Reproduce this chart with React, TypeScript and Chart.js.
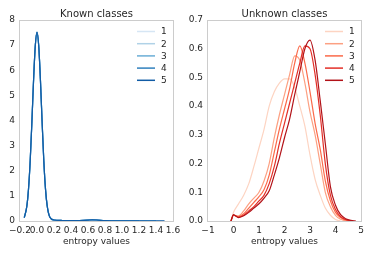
import React, { useEffect, useRef } from "react";
import { Chart, registerables } from "chart.js";

Chart.register(...registerables);

const FONT = "'DejaVu Sans', 'Liberation Sans', sans-serif";
const TEXT = "#262626";
const SPINE = "#cccccc";

const SERIES_LABELS = ["1", "2", "3", "4", "5"];
const BLUES = ["#d6e6f4", "#b0d2e7", "#6baed6", "#3080bd", "#115ca5"];
const REDS = ["#fdd4c2", "#fca082", "#fb6a4a", "#e32f27", "#b21218"];

// Known classes
const KNOWN_X = [-0.15, -0.12, -0.1, -0.08, -0.06, -0.04, -0.02, 0, 0.02, 0.04, 0.06, 0.08, 0.1, 0.12, 0.15, 0.2, 0.3, 0.4, 0.5, 0.6, 0.65, 0.7, 0.8, 0.9, 1.0, 1.1, 1.2, 1.3, 1.4, 1.5];
const K1 = [0.12, 0.57, 1.25, 2.38, 3.93, 5.62, 6.97, 7.5, 6.99, 5.66, 3.97, 2.42, 1.29, 0.61, 0.17, 0.04, 0.02, 0.015, 0.02, 0.03, 0.04, 0.035, 0.015, 0.01, 0.008, 0.006, 0.012, 0.008, 0.015, 0.005];
const K2 = [0.13, 0.58, 1.26, 2.39, 3.94, 5.63, 6.98, 7.51, 6.98, 5.65, 3.96, 2.41, 1.28, 0.6, 0.16, 0.04, 0.02, 0.015, 0.02, 0.035, 0.045, 0.04, 0.015, 0.01, 0.008, 0.006, 0.01, 0.006, null, null];
const K3 = [0.13, 0.58, 1.27, 2.4, 3.95, 5.64, 6.98, 7.52, 6.98, 5.64, 3.95, 2.4, 1.27, 0.6, 0.16, 0.04, 0.02, 0.015, 0.02, 0.035, 0.045, 0.04, 0.015, 0.01, 0.008, 0.006, 0.006, 0.01, 0.012, null];
const K4 = [0.13, 0.58, 1.27, 2.4, 3.95, 5.64, 6.98, 7.52, 6.98, 5.64, 3.95, 2.4, 1.27, 0.6, 0.16, 0.04, 0.02, 0.015, 0.02, 0.035, 0.05, 0.045, 0.015, 0.01, 0.008, 0.006, 0.006, null, null, null];
const K5 = [0.13, 0.58, 1.27, 2.4, 3.95, 5.64, 6.98, 7.52, 6.98, 5.64, 3.95, 2.4, 1.27, 0.6, 0.16, 0.04, 0.02, 0.015, 0.02, 0.035, 0.045, 0.04, 0.015, 0.01, 0.008, 0.006, 0.006, 0.01, 0.01, 0.005];
const KNOWN_SERIES = [K1, K2, K3, K4, K5];

// Unknown classes
const UNK_X = [-0.1, 0, 0.2, 0.4, 0.6, 0.8, 1.0, 1.2, 1.4, 1.6, 1.8, 2.0, 2.2, 2.4, 2.6, 2.8, 3.0, 3.2, 3.4, 3.6, 3.8, 4.0, 4.2, 4.4, 4.6, 4.8];
const U1 = [0, 0.03, 0.06, 0.09, 0.13, 0.19, 0.255, 0.32, 0.4, 0.45, 0.48, 0.495, 0.495, 0.465, 0.4, 0.33, 0.23, 0.145, 0.09, 0.045, 0.02, 0.005, 0, null, null, null];
const U2 = [0, 0.02, 0.018, 0.035, 0.06, 0.08, 0.1, 0.14, 0.2, 0.29, 0.37, 0.44, 0.51, 0.575, 0.56, 0.48, 0.38, 0.3, 0.2, 0.1, 0.05, 0.02, 0.006, 0, null, null];
const U3 = [0, 0.02, 0.015, 0.025, 0.045, 0.065, 0.085, 0.11, 0.16, 0.24, 0.32, 0.39, 0.46, 0.55, 0.61, 0.55, 0.45, 0.34, 0.25, 0.14, 0.07, 0.03, 0.012, 0.003, 0, null];
const U4 = [0, 0.02, 0.013, 0.02, 0.035, 0.05, 0.07, 0.09, 0.13, 0.19, 0.27, 0.34, 0.41, 0.48, 0.55, 0.61, 0.6, 0.51, 0.37, 0.2, 0.09, 0.04, 0.015, 0.005, 0, null];
const U5 = [0, 0.022, 0.012, 0.018, 0.03, 0.045, 0.06, 0.08, 0.105, 0.16, 0.22, 0.29, 0.355, 0.44, 0.52, 0.6, 0.63, 0.56, 0.42, 0.27, 0.12, 0.055, 0.022, 0.008, 0.002, 0];
const UNK_SERIES = [U1, U2, U3, U4, U5];

const fmt = (v: number, d: number) => {
  const n = Math.abs(v) < 1e-9 ? 0 : v;
  return n.toFixed(d).replace("-", "\u2212");
};

const decorPlugin = {
  id: "decor",
  afterDraw(chart: any, _args: any, opts: any) {
    const { ctx, chartArea } = chart;
    const { left, right, top, bottom } = chartArea;
    ctx.save();
    // spines
    ctx.strokeStyle = SPINE;
    ctx.lineWidth = 1;
    ctx.strokeRect(Math.round(left) - 0.5, Math.round(top) + 0.5, Math.round(right - left) + 1, Math.round(bottom - top));
    // title
    ctx.fillStyle = TEXT;
    ctx.font = `10px ${FONT}`;
    ctx.textAlign = "center";
    ctx.textBaseline = "middle";
    ctx.fillText(opts.title, (left + right) / 2, 14);
    // legend
    ctx.font = `9px ${FONT}`;
    ctx.textAlign = "left";
    opts.colors.forEach((c: string, i: number) => {
      const y = top + 11.5 + i * 12.2;
      ctx.strokeStyle = c;
      ctx.lineWidth = 1.5;
      ctx.beginPath();
      ctx.moveTo(right - 36, y);
      ctx.lineTo(right - 18, y);
      ctx.stroke();
      ctx.fillStyle = TEXT;
      ctx.fillText(SERIES_LABELS[i], right - 12, y + 0.5);
    });
    ctx.restore();
  },
};

function makeConfig(p: {
  xs: number[];
  series: (number | null)[][];
  colors: string[];
  title: string;
  xMin: number; xMax: number; xStep: number; xDigits: number;
  yMax: number; yStep: number; yDigits: number;
  yWidth: number; padRight: number;
}): any {
  return {
    type: "line",
    data: {
      datasets: p.series.map((s, i) => ({
        label: SERIES_LABELS[i],
        data: p.xs.map((x, j) => ({ x, y: s[j] })),
        borderColor: p.colors[i],
        borderWidth: 1.2,
        pointRadius: 0,
        fill: false,
        cubicInterpolationMode: "monotone",
        spanGaps: false,
        order: p.series.length - i,
      })),
    },
    options: {
      animation: false,
      responsive: false,
      devicePixelRatio: 1,
      layout: { padding: { top: 20, right: p.padRight, bottom: 0, left: 0 } },
      plugins: {
        legend: { display: false },
        tooltip: { enabled: false },
        title: { display: false },
        decor: { title: p.title, colors: p.colors },
      },
      scales: {
        x: {
          type: "linear",
          min: p.xMin,
          max: p.xMax,
          grid: { display: false, drawTicks: false },
          border: { display: false },
          ticks: {
            stepSize: p.xStep,
            autoSkip: false,
            maxRotation: 0,
            padding: 4,
            color: TEXT,
            font: { family: FONT, size: 9 },
            callback: (v: number) => fmt(v, p.xDigits),
          },
          title: {
            display: true,
            text: "entropy values",
            color: TEXT,
            font: { family: FONT, size: 9 },
            padding: { top: 0, bottom: 10 },
          },
          afterFit: (s: any) => { s.height = 36; },
        },
        y: {
          type: "linear",
          min: 0,
          max: p.yMax,
          grid: { display: false, drawTicks: false },
          border: { display: false },
          ticks: {
            stepSize: p.yStep,
            padding: 5,
            color: TEXT,
            font: { family: FONT, size: 9 },
            callback: (v: number) => fmt(v, p.yDigits),
          },
          afterFit: (s: any) => { s.width = p.yWidth; },
        },
      },
    },
    plugins: [decorPlugin],
  };
}

function Panel({ config, left }: { config: () => any; left: number }) {
  const ref = useRef<HTMLCanvasElement>(null);
  useEffect(() => {
    const chart = new Chart(ref.current as HTMLCanvasElement, config());
    return () => chart.destroy();
  }, []);
  return (
    <canvas
      ref={ref}
      width={187}
      height={257}
      style={{ position: "absolute", left, top: 0, width: 187, height: 257, display: "block" }}
    />
  );
}

export default function App() {
  return (
    <div style={{ position: "absolute", left: 0, top: 0, width: 374, height: 257, background: "#fff" }}>
      <Panel
        left={0}
        config={() =>
          makeConfig({
            xs: KNOWN_X, series: KNOWN_SERIES, colors: BLUES, title: "Known classes",
            xMin: -0.2, xMax: 1.6, xStep: 0.2, xDigits: 1,
            yMax: 8, yStep: 1, yDigits: 0, yWidth: 20, padRight: 14,
          })
        }
      />
      <Panel
        left={187}
        config={() =>
          makeConfig({
            xs: UNK_X, series: UNK_SERIES, colors: REDS, title: "Unknown classes",
            xMin: -1, xMax: 5, xStep: 1, xDigits: 0,
            yMax: 0.7, yStep: 0.1, yDigits: 1, yWidth: 21, padRight: 13,
          })
        }
      />
    </div>
  );
}
